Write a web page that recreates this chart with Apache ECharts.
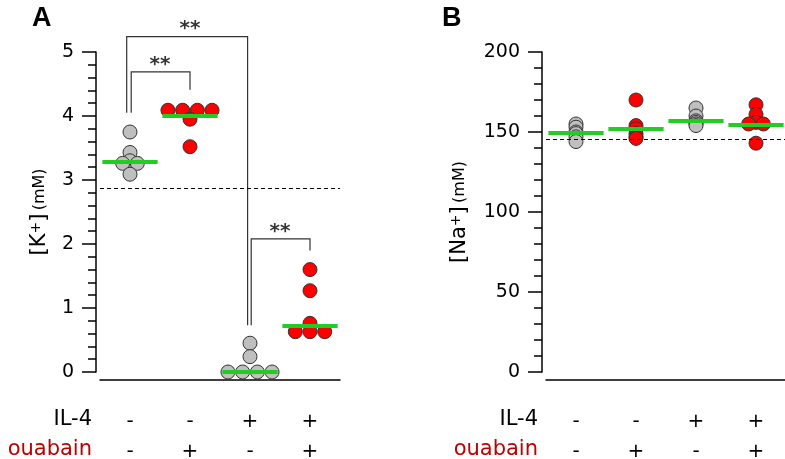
<!DOCTYPE html>
<html><head><meta charset="utf-8">
<script src="https://cdn.jsdelivr.net/npm/echarts@6/dist/echarts.min.js"></script>
<style>html,body{margin:0;padding:0;background:#fff}#c{width:785px;height:459px}</style>
</head><body><div id="c"></div>
<script>
// ---------- data ----------
const categories = ['c1', 'c2', 'c3', 'c4'];
const il4Labels = ['-', '-', '+', '+'];
const ouabainLabels = ['-', '+', '-', '+'];
const kGroup1 = [3.75, 3.43, 3.30, 3.26, 3.26, 3.09];
const kGroup2 = [4.09, 4.09, 4.09, 4.09, 3.95, 3.52];
const kGroup3 = [0.45, 0.24, 0, 0, 0, 0];
const kGroup4 = [1.60, 1.27, 0.76, 0.63, 0.63, 0.63];
const kMedians = [3.28, 4.00, 0.00, 0.72];
const kReference = 2.87;
const kTicks = [0, 1, 2, 3, 4, 5];
const naGroup1 = [155, 153, 150, 149, 147, 144];
const naGroup2 = [170, 154, 152, 149, 147, 146];
const naGroup3 = [165, 160, 157, 156, 155, 154];
const naGroup4 = [167, 161, 156, 155, 155, 143];
const naMedians = [149.4, 152.3, 157.3, 154.6];
const naReference = 145.6;
const naTicks = [0, 50, 100, 150, 200];
// significance brackets: [leftCat, rightCat, leftFoot, top, rightFoot]
const kBrackets = [
  [0, 1, 4.05, 4.69, 4.41],
  [0, 2, 4.05, 5.24, 0.73],
  [2, 3, 0.73, 2.08, 1.90]
];
const sigText = '**';

// ---------- layout / style ----------
const FONT = 'DejaVu Sans';
const GREY = '#bfbfbf', RED = '#ff0000', GREEN = '#22cc22', EDGE = '#333';
const SPACING = 0.245;       // horizontal spacing of equal points, in category units
const legNudge = [[0.02, 0], [-0.055, -0.04], [0.02, 0]];
const grids = [
  {left: 100, top: 52, width: 240, height: 320, outerBoundsMode: 'none', containLabel: false},
  {left: 546, top: 52, width: 240, height: 320, outerBoundsMode: 'none', containLabel: false}
];

function swarm(vals, cat) {
  const bins = {};
  vals.forEach(v => { const k = v.toFixed(2); (bins[k] = bins[k] || []).push(v); });
  const used = {};
  return vals.map(v => {
    const k = v.toFixed(2), n = bins[k].length;
    const i = used[k] = (used[k] === undefined ? 0 : used[k] + 1);
    return [cat + (i - (n - 1) / 2) * SPACING, v];
  });
}

function catAxis(gi) {
  return {
    type: 'category', gridIndex: gi, data: categories, offset: 8,
    axisLine: {onZero: false, lineStyle: {color: '#000', width: 1.5}},
    axisTick: {alignWithLabel: true, length: 12, lineStyle: {color: '#000', width: 1.5}},
    axisLabel: {
      formatter: (v, i) => il4Labels[i] + '\n' + ouabainLabels[i],
      fontFamily: FONT, fontSize: 20, color: '#000', lineHeight: 30, margin: 27
    },
    splitLine: {show: false}
  };
}
function valXAxis(gi) {
  return {type: 'value', gridIndex: gi, min: -0.5, max: 3.5, show: false,
    axisLine: {onZero: false}};
}
function yAxis(gi, ticks, nameMain) {
  return {
    type: 'value', gridIndex: gi, min: ticks[0], max: ticks[ticks.length - 1],
    interval: ticks[1] - ticks[0], offset: 4,
    axisLine: {show: true, onZero: false, lineStyle: {color: '#000', width: 1.5}},
    axisTick: {show: true, length: 14, lineStyle: {color: '#000', width: 1.5}},
    minorTick: {show: true, splitNumber: 5, length: 8, lineStyle: {color: '#000', width: 1.5}},
    splitLine: {show: false}, minorSplitLine: {show: false},
    axisLabel: {fontFamily: FONT, fontSize: 19, color: '#000', margin: 22},
    name: '{a|[' + nameMain + '}{s|+}{a|]} {b|(mM)}',
    nameLocation: 'middle', nameRotate: 90, nameGap: gi === 0 ? 46 : 72,
    nameTextStyle: {
      rich: {
        a: {fontFamily: FONT, fontSize: 21, color: '#000'},
        s: {fontFamily: FONT, fontSize: 14, color: '#000', verticalAlign: 'top', lineHeight: 14},
        b: {fontFamily: FONT, fontSize: 16, color: '#000'}
      }
    }
  };
}
function dots(vals, cat, color, xi, yi) {
  return {
    type: 'scatter', xAxisIndex: xi, yAxisIndex: yi, data: swarm(vals, cat),
    symbolSize: 14, z: 3, silent: true, clip: false,
    itemStyle: {color: color, borderColor: EDGE, borderWidth: 1, opacity: 1}
  };
}
function medians(meds, xi, yi) {
  return {
    type: 'lines', coordinateSystem: 'cartesian2d', xAxisIndex: xi, yAxisIndex: yi, z: 5, silent: true, clip: false,
    lineStyle: {color: GREEN, width: 4, opacity: 1},
    data: meds.map((m, i) => ({coords: [[i - 0.46, m], [i + 0.46, m]]}))
  };
}
function refLine(val, xi, yi) {
  return {
    type: 'scatter', xAxisIndex: xi, yAxisIndex: yi, data: [], silent: true,
    markLine: {
      silent: true, symbol: ['none', 'none'], label: {show: false},
      lineStyle: {color: '#000', type: [4, 3], width: 1},
      data: [{yAxis: val}]
    }
  };
}

const series = [
  refLine(kReference, 1, 0),
  dots(kGroup1, 0, GREY, 1, 0), dots(kGroup2, 1, RED, 1, 0),
  dots(kGroup3, 2, GREY, 1, 0), dots(kGroup4, 3, RED, 1, 0),
  medians(kMedians, 1, 0),
  {
    type: 'lines', coordinateSystem: 'cartesian2d', xAxisIndex: 1, yAxisIndex: 0, polyline: true, z: 4, silent: true, clip: false,
    lineStyle: {color: '#333', width: 1.2, opacity: 1},
    data: kBrackets.map((b, j) => {
      const xa = b[0] + legNudge[j][0], xb = b[1] + legNudge[j][1];
      return {coords: [[xa, b[2]], [xa, b[3]], [xb, b[3]], [xb, b[4]]]};
    })
  },
  {
    type: 'scatter', xAxisIndex: 1, yAxisIndex: 0, symbolSize: 1, silent: true, z: 6, clip: false,
    itemStyle: {color: 'rgba(0,0,0,0)'},
    label: {show: true, position: 'top', distance: -3, formatter: sigText,
      fontFamily: FONT, fontSize: 20, fontWeight: 'bold', color: '#000'},
    data: kBrackets.map(b => [(b[0] + b[1]) / 2, b[3]])
  },
  refLine(naReference, 3, 1),
  dots(naGroup1, 0, GREY, 3, 1), dots(naGroup2, 1, RED, 3, 1),
  dots(naGroup3, 2, GREY, 3, 1), dots(naGroup4, 3, RED, 3, 1),
  medians(naMedians, 3, 1)
];

const rowText = (txt, gi, y, color) => ({
  type: 'text', x: grids[gi].left - 8, y: y, silent: true,
  style: {text: txt, fill: color, font: '21px "' + FONT + '"', align: 'right', verticalAlign: 'middle'}
});

const chart = echarts.init(document.getElementById('c'), null, {renderer: 'canvas'});
chart.setOption({
  animation: false,
  backgroundColor: '#fff',
  title: [
    {text: 'A', left: 27, top: 0, textStyle: {fontFamily: 'Liberation Sans', fontWeight: 'bold', fontSize: 27, color: '#000'}},
    {text: 'B', left: 437, top: 0, textStyle: {fontFamily: 'Liberation Sans', fontWeight: 'bold', fontSize: 27, color: '#000'}}
  ],
  grid: grids,
  xAxis: [catAxis(0), valXAxis(0), catAxis(1), valXAxis(1)],
  yAxis: [yAxis(0, kTicks, 'K'), yAxis(1, naTicks, 'Na')],
  series: series,
  graphic: [
    rowText('IL-4', 0, 420, '#000'), rowText('ouabain', 0, 450, '#c00000'),
    rowText('IL-4', 1, 420, '#000'), rowText('ouabain', 1, 450, '#c00000')
  ]
});
</script></body></html>
